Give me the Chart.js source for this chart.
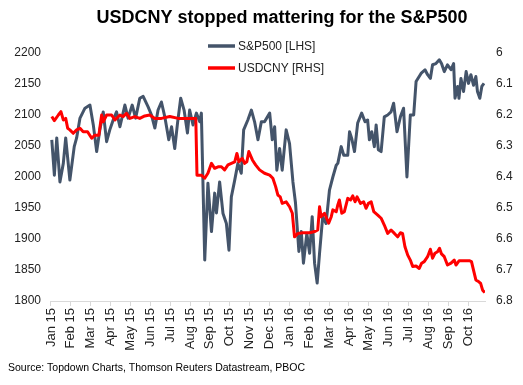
<!DOCTYPE html>
<html><head><meta charset="utf-8">
<script src="https://cdn.jsdelivr.net/npm/chart.js@4/dist/chart.umd.min.js"></script>
<style>html,body{margin:0;padding:0;background:#fff}#wrap{width:523px;height:385px}</style>
</head><body><div id="wrap"><canvas id="c" width="523" height="385"></canvas></div>
<script>
const titleText = 'USDCNY stopped mattering for the S&P500';
const sourceText = 'Source: Topdown Charts, Thomson Reuters Datastream, PBOC';
const seriesNames = ['S&P500 [LHS]', 'USDCNY [RHS]'];
const monthLabels = ['Jan 15','Feb 15','Mar 15','Apr 15','May 15','Jun 15','Jul 15','Aug 15','Sep 15','Oct 15','Nov 15','Dec 15','Jan 16','Feb 16','Mar 16','Apr 16','May 16','Jun 16','Jul 16','Aug 16','Sep 16','Oct 16'];

// time in months since 1 Jan 2015
const spxMonth = [0.04,0.17,0.29,0.45,0.62,0.74,0.95,1.17,1.29,1.46,1.71,1.96,2.13,2.30,2.46,2.63,2.80,2.96,3.13,3.30,3.47,3.72,3.88,4.09,4.26,4.47,4.64,4.89,5.06,5.23,5.39,5.56,5.73,5.93,6.07,6.23,6.37,6.53,6.70,6.87,6.98,7.15,7.32,7.49,7.57,7.74,7.90,8.08,8.24,8.33,8.49,8.66,8.83,8.96,9.08,9.25,9.41,9.58,9.70,9.91,10.09,10.25,10.42,10.59,10.75,11.01,11.14,11.26,11.37,11.51,11.64,11.84,12.01,12.18,12.31,12.48,12.60,12.71,12.88,13.02,13.15,13.27,13.40,13.52,13.68,13.85,14.02,14.19,14.36,14.44,14.61,14.74,14.94,15.03,15.14,15.28,15.44,15.64,15.81,15.94,16.03,16.15,16.28,16.37,16.48,16.62,16.78,16.95,17.12,17.25,17.42,17.59,17.75,17.92,18.09,18.26,18.38,18.63,18.83,18.96,19.10,19.21,19.38,19.55,19.66,19.80,19.96,20.14,20.27,20.34,20.47,20.54,20.64,20.77,20.90,21.02,21.14,21.27,21.39,21.47,21.59,21.69,21.80];
const spxValue = [2060,2003,2063,1992,2022,2063,1995,2049,2063,2095,2111,2116,2084,2041,2076,2105,2057,2076,2092,2105,2081,2116,2095,2116,2095,2127,2130,2113,2100,2079,2108,2121,2097,2060,2081,2046,2087,2127,2108,2071,2108,2084,2103,2089,2103,1866,1990,1912,1974,1942,1992,1941,1925,1882,1968,1995,2022,2006,2076,2092,2108,2089,2060,2089,2089,2103,2060,2081,2011,2046,2011,2076,2054,1992,1958,1880,1912,1861,1909,1877,1936,1861,1829,1877,1936,1925,1979,2000,2019,2022,2049,2035,2035,2073,2062,2041,2087,2103,2089,2092,2060,2073,2049,2084,2044,2041,2097,2100,2105,2119,2073,2097,2111,2000,2100,2100,2154,2167,2173,2165,2159,2181,2183,2189,2183,2170,2181,2173,2183,2127,2146,2127,2159,2138,2170,2151,2165,2148,2162,2138,2127,2146,2151];

const cnyMonth = [0.04,0.17,0.37,0.50,0.62,0.74,0.84,0.95,1.12,1.29,1.46,1.62,1.84,2.05,2.21,2.41,2.55,2.63,2.80,3.05,3.22,3.47,3.63,3.80,3.97,4.22,4.47,4.72,4.97,5.23,5.56,5.98,6.40,6.98,7.29,7.35,7.57,7.74,7.90,8.08,8.24,8.41,8.58,8.74,8.91,9.08,9.25,9.36,9.46,9.63,9.75,9.86,9.96,10.14,10.30,10.50,10.75,11.01,11.17,11.31,11.42,11.54,11.64,11.84,12.01,12.15,12.26,12.43,12.68,13.02,13.27,13.43,13.52,13.60,13.77,13.98,14.11,14.19,14.36,14.44,14.52,14.64,14.77,14.94,15.08,15.19,15.31,15.41,15.58,15.74,15.86,15.98,16.12,16.25,16.45,16.62,16.78,16.95,17.12,17.29,17.45,17.59,17.70,17.82,17.96,18.09,18.21,18.38,18.54,18.66,18.79,18.96,19.10,19.21,19.33,19.46,19.56,19.66,19.80,19.96,20.14,20.30,20.39,20.55,20.80,21.06,21.17,21.29,21.39,21.54,21.63,21.73,21.84];
const cnyValue = [6.205,6.218,6.200,6.189,6.216,6.211,6.243,6.248,6.259,6.248,6.243,6.254,6.254,6.275,6.265,6.265,6.200,6.222,6.200,6.200,6.216,6.200,6.205,6.195,6.211,6.205,6.211,6.203,6.200,6.211,6.211,6.205,6.211,6.211,6.211,6.394,6.394,6.404,6.388,6.356,6.372,6.367,6.367,6.377,6.361,6.356,6.351,6.324,6.351,6.340,6.356,6.351,6.318,6.345,6.361,6.377,6.388,6.394,6.404,6.431,6.458,6.464,6.485,6.480,6.496,6.517,6.593,6.582,6.580,6.580,6.576,6.571,6.496,6.528,6.517,6.549,6.528,6.506,6.512,6.490,6.474,6.517,6.512,6.469,6.474,6.461,6.480,6.464,6.485,6.480,6.501,6.485,6.480,6.512,6.523,6.533,6.555,6.582,6.571,6.582,6.593,6.580,6.582,6.625,6.652,6.668,6.689,6.687,6.695,6.678,6.673,6.657,6.633,6.662,6.646,6.641,6.630,6.648,6.657,6.684,6.678,6.668,6.684,6.670,6.670,6.670,6.673,6.705,6.732,6.738,6.743,6.765,6.773];

const spxColor = '#44546a';
const cnyColor = '#ff0000';
const FONT = '"Liberation Sans", Arial, sans-serif';

const toPoints = (xs, ys) => xs.map((x, i) => ({x, y: ys[i]}));

const decor = {
  id: 'decor',
  afterDraw(chart) {
    const ctx = chart.ctx;
    ctx.save();
    ctx.fillStyle = '#000';
    ctx.font = 'bold 18px ' + FONT;
    ctx.textAlign = 'center';
    ctx.textBaseline = 'alphabetic';
    ctx.fillText(titleText, 282, 23);
    // legend
    const items = [[seriesNames[0], spxColor, 46], [seriesNames[1], cnyColor, 68]];
    ctx.font = '12px ' + FONT;
    ctx.textAlign = 'left';
    ctx.textBaseline = 'middle';
    items.forEach(([t, c, y]) => {
      ctx.strokeStyle = c; ctx.lineWidth = 3.5; ctx.lineCap = 'butt';
      ctx.beginPath(); ctx.moveTo(208, y); ctx.lineTo(235, y); ctx.stroke();
      ctx.fillStyle = '#222';
      ctx.fillText(t, 238, y + 1);
    });
    ctx.font = '10.5px ' + FONT;
    ctx.fillStyle = '#000';
    ctx.textBaseline = 'middle';
    ctx.fillText(sourceText, 8, 368);
    ctx.restore();
  }
};

new Chart(document.getElementById('c'), {
  type: 'line',
  data: {
    datasets: [
      {label: seriesNames[1], data: toPoints(cnyMonth, cnyValue), yAxisID: 'y1', borderColor: cnyColor, borderWidth: 3, pointRadius: 0, tension: 0, borderJoinStyle: 'round', order: 1},
      {label: seriesNames[0], data: toPoints(spxMonth, spxValue), yAxisID: 'y', borderColor: spxColor, borderWidth: 3, pointRadius: 0, tension: 0, borderJoinStyle: 'round', order: 2}
    ]
  },
  options: {
    responsive: false,
    animation: false,
    devicePixelRatio: 1,
    layout: {padding: {top: 53, left: 0, right: 0, bottom: 0}},
    plugins: {legend: {display: false}, title: {display: false}, tooltip: {enabled: false}},
    scales: {
      x: {
        type: 'linear', position: 'bottom', min: -0.05, max: 21.85,
        afterBuildTicks: s => { s.ticks = monthLabels.map((l, i) => ({value: i})); },
        afterFit: s => { s.height = 84; },
        ticks: {autoSkip: false, maxRotation: 90, minRotation: 90, padding: 2, color: '#222', font: {family: FONT, size: 13}, callback: v => monthLabels[v]},
        grid: {drawOnChartArea: false, drawTicks: true, tickLength: 5, color: '#d9d9d9'},
        border: {display: true, color: '#d9d9d9'}
      },
      y: {
        position: 'left', min: 1800, max: 2200,
        afterFit: s => { s.width = 50; },
        ticks: {stepSize: 50, padding: 9, color: '#222', font: {family: FONT, size: 12}, callback: v => String(v)},
        grid: {display: false, drawTicks: false},
        border: {display: false}
      },
      y1: {
        position: 'right', reverse: true, min: 6, max: 6.8,
        afterFit: s => { s.width = 38; },
        ticks: {stepSize: 0.1, padding: 11, color: '#222', font: {family: FONT, size: 12}, callback: v => String(Math.round(v * 10) / 10)},
        grid: {display: false, drawTicks: false},
        border: {display: false}
      }
    }
  },
  plugins: [decor]
});
</script></body></html>
